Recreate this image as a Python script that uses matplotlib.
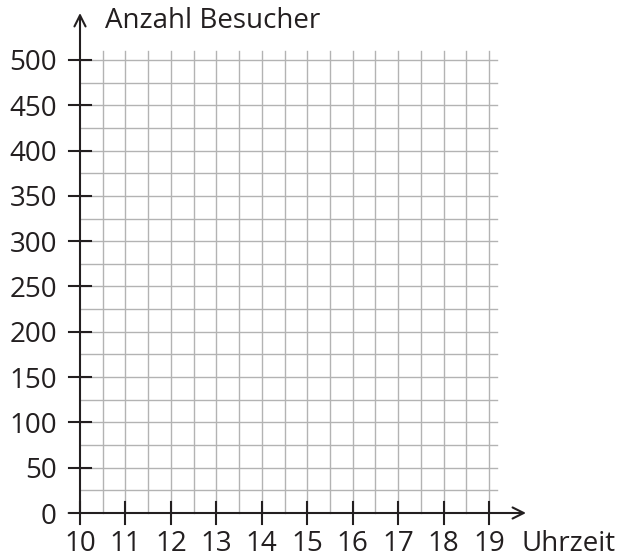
import matplotlib
matplotlib.use("Agg")
import matplotlib.pyplot as plt
import numpy as np

# axis content (empty worksheet grid)
hours = [10, 11, 12, 13, 14, 15, 16, 17, 18, 19]
visitor_ticks = [0, 50, 100, 150, 200, 250, 300, 350, 400, 450, 500]
x_label = "Uhrzeit"
y_label = "Anzahl Besucher"
grid_x_step = 0.5
grid_y_step = 25

plt.rcParams['font.family'] = ['Open Sans', 'DejaVu Sans']
ink = '#231f20'
grid_col = '#b3b3b3'
fs = 20

fig = plt.figure(figsize=(6.21, 5.58), dpi=100)
ax = fig.add_axes([0, 0, 1, 1])

# pixel mapping: x=10 -> 80px, x=19 -> 489px ; y=0 -> 45px from bottom, y=500 -> 498px
sx = (489 - 80) / (hours[-1] - hours[0])
sy = (498 - 45) / (visitor_ticks[-1] - visitor_ticks[0])
ax.set_xlim(hours[0] - 80 / sx, hours[0] + (621 - 80) / sx)
ax.set_ylim(visitor_ticks[0] - 45 / sy, visitor_ticks[0] + (558 - 45) / sy)
ax.axis('off')

x0, x1 = hours[0], hours[-1]
y0, y1 = visitor_ticks[0], visitor_ticks[-1]
gx_end = x1 + 8 / sx
gy_end = y1 + 9 / sy

# grid
for gx in np.arange(x0 + grid_x_step, x1 + 1e-9, grid_x_step):
    ax.plot([gx, gx], [y0, gy_end], color=grid_col, lw=1.0, zorder=1)
for gy in np.arange(y0 + grid_y_step, y1 + 1e-9, grid_y_step):
    ax.plot([x0, gx_end], [gy, gy], color=grid_col, lw=1.0, zorder=1)

# axes with arrows
ax.annotate('', xy=(x0, y1 + 47 / sy), xytext=(x0, y0 - 0.5),
            arrowprops=dict(arrowstyle='->', color=ink, lw=1.5,
                            mutation_scale=20, shrinkA=0, shrinkB=0), zorder=3)
ax.annotate('', xy=(x1 + 37 / sx, y0), xytext=(x0 - 0.25, y0),
            arrowprops=dict(arrowstyle='->', color=ink, lw=1.5,
                            mutation_scale=20, shrinkA=0, shrinkB=0), zorder=3)

# tick marks and labels
for v in visitor_ticks:
    if v > 0:
        ax.plot([x0 - 11 / sx, x0 + 11 / sx], [v, v], color=ink, lw=1.5, zorder=3)
    ax.text(x0 - 23 / sx, v, str(v), ha='right', va='center_baseline',
            fontsize=fs, color=ink)
for h in hours:
    ax.plot([h, h], [y0 - 11 / sy, y0 + 11 / sy], color=ink, lw=1.5, zorder=3)
    ax.text(h, y0 - 38 / sy, str(h), ha='center', va='baseline',
            fontsize=fs, color=ink)

ax.text(x1 + 33 / sx, y0 - 38 / sy, x_label, ha='left', va='baseline',
        fontsize=fs, color=ink)
ax.text(x0 + 25 / sx, y1 + 32 / sy, y_label, ha='left', va='baseline',
        fontsize=fs, color=ink)

fig.savefig('out.png', dpi=100)
